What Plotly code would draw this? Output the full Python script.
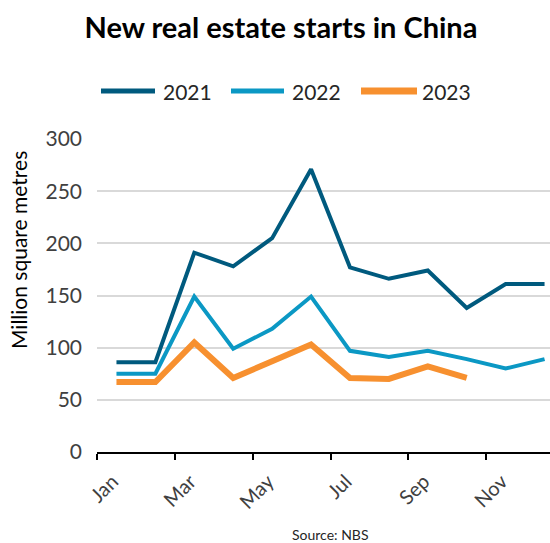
import plotly.graph_objects as go

months = ["Jan", "Feb", "Mar", "Apr", "May", "Jun", "Jul", "Aug", "Sep", "Oct", "Nov", "Dec"]
tick_labels = ["Jan", "Mar", "May", "Jul", "Sep", "Nov"]
series_names = ["2021", "2022", "2023"]
y2021 = [86, 86, 191, 178, 205, 271, 177, 166, 174, 138, 161, 161]
y2022 = [75, 75, 149, 99, 118, 149, 97, 91, 97, 89, 80, 89]
y2023 = [67, 67, 105, 71, 87, 103, 71, 70, 82, 71]

colors = ["#005a7e", "#0b98c4", "#f7902f"]
widths = [4, 4, 6]

FONT = "Lato"
W, H = 550, 543
L, R, T, B = 97, 0, 139, 91
PW, PH = W - L - R, H - T - B

def px_x(x):
    return (x - L) / PW

def px_y(y):
    return (H - B - y) / PH

x_idx = list(range(len(months)))

fig = go.Figure()
for name, ys, c, w in zip(series_names, [y2021, y2022, y2023], colors, widths):
    fig.add_trace(go.Scatter(x=x_idx[:len(ys)], y=ys, name=name, mode="lines",
                             line=dict(color=c, width=w), showlegend=False, hoverinfo="skip"))

major_vals = [months.index(m) for m in tick_labels]
minor_vals = [v - 0.5 for v in major_vals]

# custom legend (swatch + label), placed in pixel terms
legend_line_x = [(101, 155), (231, 284), (361, 417)]
legend_text_x = [161, 290, 420]
legend_y = 91
shapes = []
annotations = []
for (x0, x1), tx, name, c, w in zip(legend_line_x, legend_text_x, series_names, colors, widths):
    shapes.append(dict(type="line", xref="paper", yref="paper",
                       x0=px_x(x0), x1=px_x(x1), y0=px_y(legend_y), y1=px_y(legend_y),
                       line=dict(color=c, width=w + 1)))
    annotations.append(dict(text=name, xref="paper", yref="paper", x=px_x(tx), y=px_y(legend_y),
                            xanchor="left", yanchor="middle", showarrow=False,
                            font=dict(family=FONT, size=21, color="#262626")))

annotations += [
    dict(text="Million square metres", textangle=-90, xref="paper", yref="paper",
         x=px_x(18), y=px_y(250), xanchor="center", yanchor="middle",
         showarrow=False, font=dict(family=FONT, size=21, color="#000000")),
    dict(text="Source: NBS", xref="paper", yref="paper",
         x=px_x(330), y=px_y(534), xanchor="center", yanchor="middle",
         showarrow=False, font=dict(family=FONT, size=14, color="#262626")),
]

fig.update_layout(
    width=W, height=H,
    margin=dict(l=L, r=R, t=T, b=B, autoexpand=False),
    paper_bgcolor="white", plot_bgcolor="white",
    font=dict(family=FONT, color="#404040"),
    title=dict(text="<b>New real estate starts in China</b>", x=281 / W, xanchor="center",
               y=1 - 28 / H, yanchor="middle", yref="container",
               font=dict(family=FONT, size=29, color="#000000")),
    showlegend=False,
    xaxis=dict(range=[-0.5, 11.14], tickmode="array", tickvals=major_vals, ticktext=tick_labels,
               ticks="", tickangle=-45, tickfont=dict(size=20, color="#404040"),
               ticklabelstandoff=8, ticklabelshift=-4,
               showgrid=False, zeroline=False, showline=True, linecolor="#000000", linewidth=2,
               automargin=False,
               minor=dict(tickmode="array", tickvals=minor_vals, ticks="outside", ticklen=6,
                          tickcolor="#000000", tickwidth=2, showgrid=False)),
    yaxis=dict(range=[0, 300], tickmode="array", tickvals=[0, 50, 100, 150, 200, 250, 300],
               tickfont=dict(size=21, color="#404040"), ticks="", ticklabelstandoff=14,
               showgrid=True, gridcolor="#d9d9d9", gridwidth=1.5, zeroline=False,
               showline=False, automargin=False),
    shapes=shapes,
    annotations=annotations,
)

fig.write_html("out.html", config={"displayModeBar": False},
               post_script="document.body.style.margin='0';document.body.style.padding='0';")
